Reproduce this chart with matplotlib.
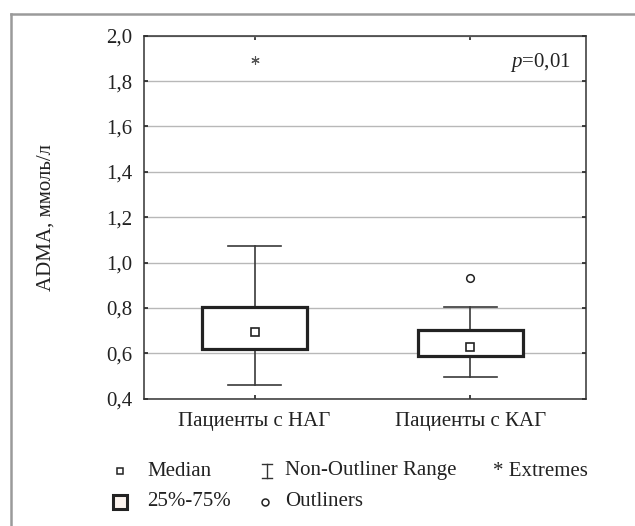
import matplotlib
matplotlib.use("Agg")
import matplotlib.pyplot as plt
from matplotlib.lines import Line2D
from matplotlib.patches import Rectangle

plt.rcParams["font.family"] = ["Liberation Serif", "DejaVu Serif"]
plt.rcParams["mathtext.fontset"] = "custom"
plt.rcParams["mathtext.it"] = "Liberation Serif:italic"
plt.rcParams["mathtext.rm"] = "Liberation Serif"

# values
groups = ["Пациенты с НАГ", "Пациенты с КАГ"]
medians = [0.693, 0.627]
q1 = [0.618, 0.589]
q3 = [0.803, 0.703]
whisker_low = [0.459, 0.494]
whisker_high = [1.072, 0.806]
outliers = [[], [0.933]]
extremes = [[1.893], []]
yticks = [0.4, 0.6, 0.8, 1.0, 1.2, 1.4, 1.6, 1.8, 2.0]
ytick_labels = ["0,4", "0,6", "0,8", "1,0", "1,2", "1,4", "1,6", "1,8", "2,0"]

W, H = 635, 526
ink = "#222222"
fs = 15


def fx(px):
    return px / W


def fy(py):
    return 1 - py / H


fig = plt.figure(figsize=(W / 100, H / 100), dpi=100)
ax = fig.add_axes([fx(144), fy(398.7), fx(586) - fx(144), fy(35.7) - fy(398.7)])

positions = [1, 2]
box_w = 0.486
cap_w = 0.245
for pos, med, lo, hi, wl, wh in zip(positions, medians, q1, q3, whisker_low, whisker_high):
    ax.plot([pos, pos], [wl, lo], color="#3a3a3a", lw=1.2, zorder=3)
    ax.plot([pos, pos], [hi, wh], color="#3a3a3a", lw=1.2, zorder=3)
    ax.plot([pos - cap_w / 2, pos + cap_w / 2], [wl, wl], color="#3a3a3a", lw=1.2, zorder=3)
    ax.plot([pos - cap_w / 2, pos + cap_w / 2], [wh, wh], color="#3a3a3a", lw=1.2, zorder=3)
    ax.add_patch(Rectangle((pos - box_w / 2, lo), box_w, hi - lo, facecolor="white",
                           edgecolor=ink, lw=2.3, zorder=4))
    ax.plot(pos, med, marker="s", ms=5.5, mfc="white", mec=ink, mew=1.2, zorder=5)

for pos, vals in zip(positions, outliers):
    for v in vals:
        ax.plot(pos, v, marker="o", ms=5.5, mfc="white", mec=ink, mew=1.1, zorder=5)
for pos, vals in zip(positions, extremes):
    for v in vals:
        ax.plot(pos, v, marker=(6, 2, 0), ms=6, color="#555555", mew=0.8, zorder=5)

ax.set_xlim(0.488, 2.535)
ax.set_ylim(0.4, 2.0)
ax.set_yticks(yticks)
ax.set_yticklabels(ytick_labels)
ax.set_xticks(positions)
ax.set_xticklabels(groups)
ax.tick_params(axis="both", direction="in", length=3, width=1.2, colors=ink,
               labelsize=fs, labelcolor=ink, top=True, right=True)
ax.tick_params(axis="y", pad=8.5)
ax.tick_params(axis="x", pad=9.5)
ax.grid(axis="y", color="#b8b8b8", lw=1.0, zorder=0)
ax.set_axisbelow(True)
for sp in ax.spines.values():
    sp.set_color("#333333")
    sp.set_linewidth(1.1)

ax.set_ylabel("ADMA, ммоль/л", fontsize=fs, color=ink)
ax.yaxis.set_label_coords(-0.2, 0.5)

ax.text(0.965, 0.925, "$p$=0,01", transform=ax.transAxes, ha="right", va="center",
        fontsize=fs, color=ink)

# outer grey frame
frame = dict(color="#9a9a9a", lw=1.8, transform=fig.transFigure)
fig.add_artist(Line2D([fx(10.5), 1.0], [fy(13.5), fy(13.5)], **frame))
fig.add_artist(Line2D([fx(10.5), fx(10.5)], [fy(13.5), 0.0], **frame))

# legend
row1, row2 = 471, 502
txt = dict(fontsize=fs, color=ink, va="center")
fig.add_artist(Line2D([fx(120)], [fy(row1)], marker="s", ms=5, mfc="white", mec=ink,
                      mew=1.1, transform=fig.transFigure))
fig.text(fx(147), fy(row1), "Median", **txt)
bar = dict(color="#333333", lw=1.0, transform=fig.transFigure)
fig.add_artist(Line2D([fx(267), fx(267)], [fy(row1 - 7), fy(row1 + 7)], **bar))
fig.add_artist(Line2D([fx(262), fx(272)], [fy(row1 - 7), fy(row1 - 7)], **bar))
fig.add_artist(Line2D([fx(262), fx(272)], [fy(row1 + 7), fy(row1 + 7)], **bar))
fig.text(fx(285), fy(row1), "Non-Outliner Range", **txt)
fig.text(fx(493), fy(row1), "* Extremes", **txt)

fig.add_artist(Line2D([fx(120)], [fy(row2)], marker="s", ms=10, mfc="#fbf3ee", mec=ink,
                      mew=2.2, transform=fig.transFigure))
fig.text(fx(147), fy(row2), "25%-75%", **txt)
fig.add_artist(Line2D([fx(265)], [fy(row2)], marker="o", ms=5, mfc="white", mec=ink,
                      mew=1.1, transform=fig.transFigure))
fig.text(fx(285), fy(row2), "Outliners", **txt)

fig.savefig("out.png", dpi=100)
